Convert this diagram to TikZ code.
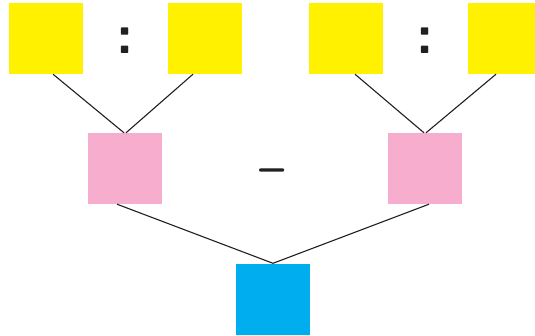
\documentclass[tikz,border=0pt]{standalone}
\usepackage{tikz}
\usetikzlibrary{positioning}
\definecolor{boxyellow}{RGB}{255,241,0}
\definecolor{boxpink}{RGB}{246,173,206}
\definecolor{boxblue}{RGB}{0,174,239}
\definecolor{inkline}{RGB}{35,31,32}
\tikzset{
  sq/.style={rectangle,fill=#1,draw=none,minimum width=74pt,
             minimum height=71pt,inner sep=0pt},
  sq/.default=boxyellow,
  link/.style={inkline,line width=1.1pt},
  sign/.style={font=\fontsize{46}{46}\sffamily\bfseries,text=inkline,
               inner sep=0pt},
  ratio/.style={font=\fontsize{56}{56}\sffamily\bfseries,text=inkline,
                inner sep=0pt},
}
\begin{document}
\begin{tikzpicture}[x=1pt,y=-1pt]
  \clip (0,0) rectangle (535,335);
  \fill[white] (0,0) rectangle (535,335);
  % top row
  \foreach \n/\x in {ya/46,yb/205,yc/346,yd/505}{
    \node[sq] (\n) at (\x,38.5) {};
  }
  \node[sq=boxpink] (pa) at (125,168.5) {};
  \node[sq=boxpink] (pb) at (425,168.5) {};
  \node[sq=boxblue] (bl) at (273,299) {};
  % signs
  \node[ratio] (ca) at (125,41) {:};
  \node[ratio] (cb) at (425,41) {:};
  \node[sign] (mi) at (272,176) {--};
  % links
  \draw[link] ([xshift=7pt]ya.south) -- ([xshift=-1pt]pa.north);
  \draw[link] ([xshift=-12pt]yb.south) -- ([xshift=1pt]pa.north);
  \draw[link] ([xshift=9pt]yc.south) -- ([xshift=-1pt]pb.north);
  \draw[link] ([xshift=-9pt]yd.south) -- ([xshift=1pt]pb.north);
  \draw[link] ([xshift=-8pt]pa.south) -- (bl.north);
  \draw[link] ([xshift=4pt]pb.south) -- (bl.north);
\end{tikzpicture}
\end{document}
